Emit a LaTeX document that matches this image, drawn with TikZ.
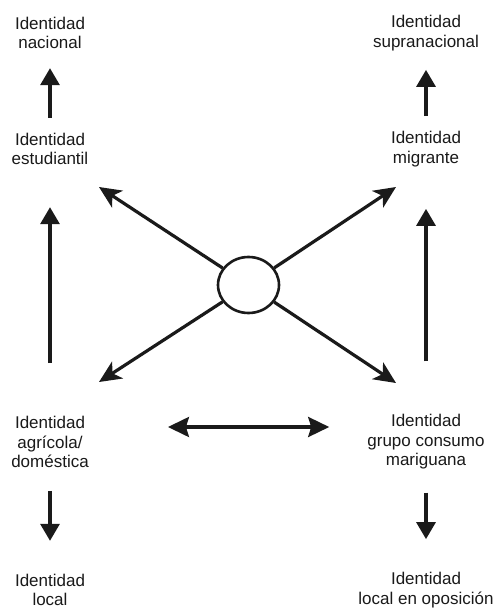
\documentclass[tikz,border=0pt]{standalone}
\usepackage{fontspec}
\setmainfont{Liberation Sans}
\usepackage{xcolor}
\usetikzlibrary{arrows.meta,shapes.geometric}

\definecolor{ink}{HTML}{1A1A1A}
\tikzset{
  lbl/.style={align=center,inner sep=0pt,text=ink,font=\fontsize{17}{19.5}\selectfont},
  hub/.style={ellipse,draw=ink,line width=2.6pt,minimum width=61pt,minimum height=56pt,inner sep=0pt},
  vup/.style={draw=ink,line width=3.2pt,-{Triangle[length=17pt,width=19pt]}},
  diag/.style={draw=ink,line width=3.2pt,-{Stealth[length=22pt,width=20pt,inset=6pt]}},
  both/.style={draw=ink,line width=3.2pt,{Stealth[length=21pt,width=20pt,inset=3pt]}-{Stealth[length=21pt,width=20pt,inset=3pt]}}
}

\begin{document}
\begin{tikzpicture}[x=1pt,y=-1pt]
    \useasboundingbox[fill=white] (0,0) rectangle (500,609);
    % the eight identities
    \node[lbl] (nacional) at (50,33) {Identidad\\nacional};
    \node[lbl] (supra) at (426,33) {Identidad\\supranacional};
    \node[lbl] (estud) at (50,149) {Identidad\\estudiantil};
    \node[lbl] (migr) at (426,149) {Identidad\\migrante};
    \node[lbl] (agri) at (50,442) {Identidad\\agrícola/\\doméstica};
    \node[lbl] (grupo) at (426,442) {Identidad\\grupo consumo\\mariguana};
    \node[lbl] (local) at (50,590) {Identidad\\local};
    \node[lbl] (oposic) at (426,590) {Identidad\\local en oposición};
    % centre
    \node[hub] (hub) at (248.5,285) {};
    \coordinate (ul) at (99,187);
    \coordinate (ur) at (396,187);
    \coordinate (dl) at (99,382);
    \coordinate (dr) at (396,383);
    \draw[diag] (hub) -- (ul);
    \draw[diag] (hub) -- (ur);
    \draw[diag] (hub) -- (dl);
    \draw[diag] (hub) -- (dr);
    % columns
    \draw[vup,shorten <=15pt,shorten >=19pt] (estud) -- (nacional);
    \draw[vup,shorten <=15pt,shorten >=19pt] (migr) -- (supra);
    \draw[vup,shorten <=53pt,shorten >=42pt] (agri) -- (estud);
    \draw[vup,shorten <=53pt,shorten >=42pt] (grupo) -- (migr);
    \draw[vup,shorten <=23pt,shorten >=33pt] (agri) -- (local);
    \draw[vup,shorten <=23pt,shorten >=33pt] (grupo) -- (oposic);
    \draw[both,shorten <=79pt,shorten >=38pt] ([yshift=15pt]agri.east) -- ([yshift=15pt]grupo.west);
\end{tikzpicture}
\end{document}
